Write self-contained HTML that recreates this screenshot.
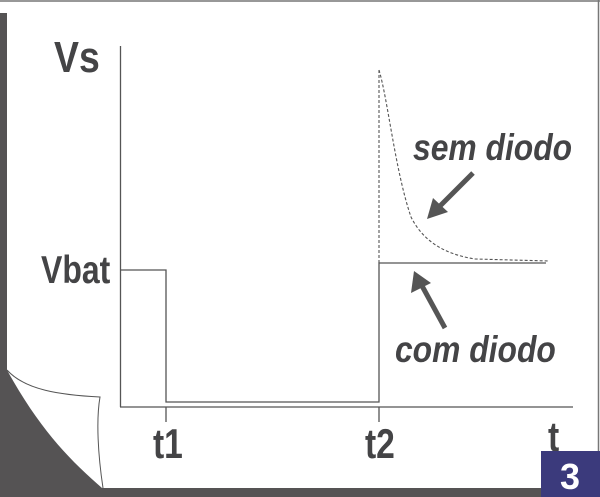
<!DOCTYPE html>
<html><head><meta charset="utf-8"><style>
html,body{margin:0;padding:0;background:#fff}
svg{display:block}
text{font-family:"Liberation Sans",Arial,sans-serif;font-weight:bold;fill:#444446}
</style></head><body>
<svg width="600" height="497" viewBox="0 0 600 497" xmlns="http://www.w3.org/2000/svg">
<rect x="0" y="0" width="600" height="497" fill="#fff"/>
<line x1="0" y1="1" x2="600" y2="1" stroke="#777" stroke-width="1.5"/>
<line x1="598.5" y1="0" x2="598.5" y2="497" stroke="#777" stroke-width="1.5"/>
<rect x="0" y="13" width="7" height="484" fill="#555354"/>
<rect x="0" y="488" width="600" height="9" fill="#555354"/>
<path d="M7,370 C40,430 70,460 102,488 L0,488 L0,370 Z" fill="#555354"/>
<path d="M7,370 C25,390 60,395 100,397 C96,420 98,455 103,488" fill="#fff" stroke="#555" stroke-width="1"/>
<g stroke="#555" stroke-width="1.3" fill="none">
<line x1="120.5" y1="46" x2="120.5" y2="407"/>
<line x1="120" y1="407" x2="573" y2="407"/>
<polyline points="120,270 166,270 166,402 379,402 379,263 546,263"/>
<line x1="166" y1="407" x2="166" y2="422"/>
<line x1="379" y1="407" x2="379" y2="422"/>
</g>
<g stroke="#555" stroke-width="1.1" fill="none" stroke-dasharray="3,2">
<line x1="379" y1="70" x2="379" y2="263"/>
<path d="M379,70 C388,100 395,170 411,217 C425,245 450,255 475,259 L549,261"/>
</g>
<g stroke="#555" stroke-width="5" stroke-linecap="butt">
<line x1="473" y1="173" x2="438" y2="208"/>
<line x1="445" y1="328" x2="421" y2="284"/>
</g>
<polygon points="427,219 433,198 448,212" fill="#555"/>
<polygon points="414,271 411,293 431,283" fill="#555"/>
<text x="54" y="72" font-size="44" transform="translate(54 0) scale(0.85 1) translate(-54 0)">Vs</text>
<text x="41" y="283" font-size="39" transform="translate(41 0) scale(0.82 1) translate(-41 0)">Vbat</text>
<text x="413" y="160" font-size="37" font-style="italic" transform="translate(413 0) scale(0.86 1) translate(-413 0)">sem diodo</text>
<text x="395" y="362" font-size="37" font-style="italic" transform="translate(395 0) scale(0.86 1) translate(-395 0)">com diodo</text>
<text x="153" y="458" font-size="42" transform="translate(153 0) scale(0.8 1) translate(-153 0)">t1</text>
<text x="365" y="458" font-size="42" transform="translate(365 0) scale(0.8 1) translate(-365 0)">t2</text>
<text x="548" y="451" font-size="42" transform="translate(548 0) scale(0.8 1) translate(-548 0)">t</text>
<rect x="541" y="451" width="59" height="46" fill="#3b3a7c"/>
<text x="570" y="489" font-size="36" text-anchor="middle" style="fill:#fff">3</text>
</svg>
</body></html>
